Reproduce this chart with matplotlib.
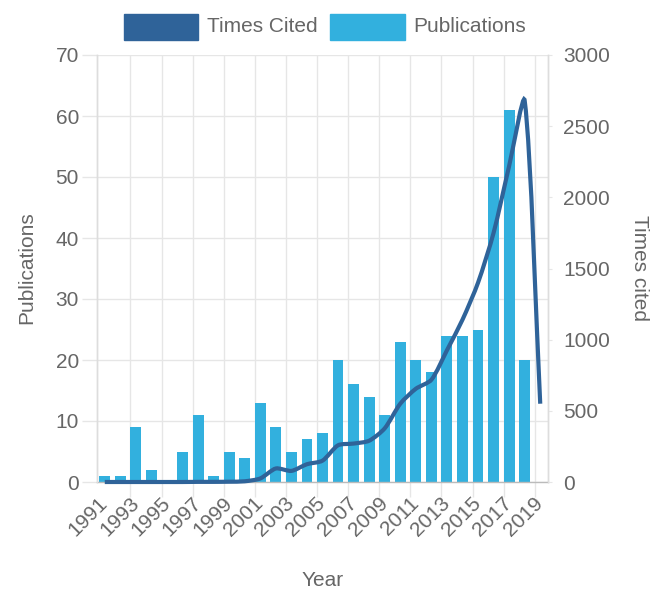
import numpy as np
import matplotlib
matplotlib.use("Agg")
import matplotlib.pyplot as plt
from matplotlib.path import Path
from matplotlib.patches import PathPatch, Rectangle

years = list(range(1991, 2020))
publications = [1, 1, 9, 2, 0, 5, 11, 1, 5, 4, 13, 9, 5, 7, 8, 20, 16, 14, 11,
                23, 20, 18, 24, 24, 25, 50, 61, 20, 0]
times_cited = [0, 0, 0, 0, 0, 0, 1, 1, 2, 5, 25, 95, 78, 125, 150, 258, 270, 290,
               377, 550, 655, 718, 925, 1140, 1400, 1750, 2220, 2680, 550]
left_ticks = [0, 10, 20, 30, 40, 50, 60, 70]
right_ticks = [0, 500, 1000, 1500, 2000, 2500, 3000]

BAR = "#32b0de"
LINE = "#2f6399"
TXT = "#666666"
GRID = "#e6e6e6"
FONT = "Liberation Sans"
FS = 15

plt.rcParams['font.family'] = [FONT, 'DejaVu Sans']

W, H = 652, 593
fig = plt.figure(figsize=(W / 100, H / 100), dpi=100)
L, R, T, B = 97, 548, 55, 482
ax = fig.add_axes([L / W, 1 - B / H, (R - L) / W, (B - T) / H])
ax2 = ax.twinx()

x = np.arange(len(years))
ax.set_xlim(-0.5, len(years) - 0.5)
ax.set_ylim(0, 70)
ax2.set_ylim(0, 3000)

ax.bar(x, publications, width=0.7, color=BAR, zorder=2)

# grid / ticks
ax.set_yticks(left_ticks)
ax.set_yticklabels([str(v) for v in left_ticks], fontsize=FS, color=TXT)
minor = [i - 0.35 for i in x if i % 2 == 0 and i > 0]
ax.set_xticks(x[::2])
ax.set_xticklabels([str(y) for y in years[::2]], rotation=45, ha='right', va='center',
                   rotation_mode='anchor', fontsize=FS, color=TXT)
ax.set_xticks(minor, minor=True)
ax.tick_params(axis='x', which='major', length=0, pad=13)
ax.tick_params(axis='x', which='minor', length=11, color=GRID, width=1)
ax.tick_params(axis='y', length=11, color=GRID, width=1, pad=2)
ax.grid(True, axis='y', color=GRID, lw=1, zorder=0)
ax.grid(True, axis='x', which='minor', color=GRID, lw=1, zorder=0)
ax.set_axisbelow(True)

ax2.set_yticks(right_ticks)
ax2.set_yticklabels([str(v) for v in right_ticks], fontsize=FS, color=TXT)
ax2.tick_params(axis='y', length=3, color=GRID, pad=8)

for a in (ax, ax2):
    for s in a.spines.values():
        s.set_color("#dddddd")
        s.set_linewidth(1)
ax.spines['bottom'].set_color("#bbbbbb")
ax2.spines['bottom'].set_visible(False)
ax2.spines['top'].set_visible(False)
ax.spines['top'].set_visible(False)

# smooth line: tension spline in pixel space
pts = ax2.transData.transform(np.column_stack([x, times_cited]))
n = len(pts)
TENSION = 0.25
cps_prev, cps_next = [], []
for i in range(n):
    cur = pts[i]
    prev = pts[i - 1] if i > 0 else cur
    nxt = pts[i + 1] if i < n - 1 else cur
    d01 = np.hypot(*(cur - prev))
    d12 = np.hypot(*(nxt - cur))
    tot = d01 + d12
    s01 = d01 / tot if tot else 0
    s12 = d12 / tot if tot else 0
    cps_prev.append(cur - TENSION * s01 * (nxt - prev))
    cps_next.append(cur + TENSION * s12 * (nxt - prev))
verts = [pts[0]]
codes = [Path.MOVETO]
for i in range(1, n):
    verts += [cps_next[i - 1], cps_prev[i], pts[i]]
    codes += [Path.CURVE4] * 3
inv = ax2.transData.inverted()
verts_d = inv.transform(np.array(verts, dtype=float))
ax2.add_patch(PathPatch(Path(verts_d, codes), facecolor='none', edgecolor=LINE,
                        lw=3, capstyle='butt', joinstyle='miter', zorder=3, clip_on=False))

# axis titles
fig.text(27 / W, 1 - 268 / H, "Publications", rotation=90, ha='center', va='center',
         fontsize=FS, color=TXT)
fig.text(640 / W, 1 - 268 / H, "Times cited", rotation=270, ha='center', va='center',
         fontsize=FS, color=TXT)
fig.text(323 / W, 1 - 580 / H, "Year", ha='center', va='center', fontsize=FS, color=TXT)

# legend
def fx(p):
    return p / W

def fy(p):
    return 1 - p / H

fig.patches.append(Rectangle((fx(124), fy(40)), 74 / W, 26 / H, transform=fig.transFigure,
                             facecolor=LINE, edgecolor=LINE, figure=fig))
fig.text(fx(207), fy(27), "Times Cited", ha='left', va='center', fontsize=FS, color=TXT)
fig.patches.append(Rectangle((fx(330), fy(40)), 75 / W, 26 / H, transform=fig.transFigure,
                             facecolor=BAR, edgecolor=BAR, figure=fig))
fig.text(fx(413), fy(27), "Publications", ha='left', va='center', fontsize=FS, color=TXT)

fig.savefig("out.png", dpi=100)
